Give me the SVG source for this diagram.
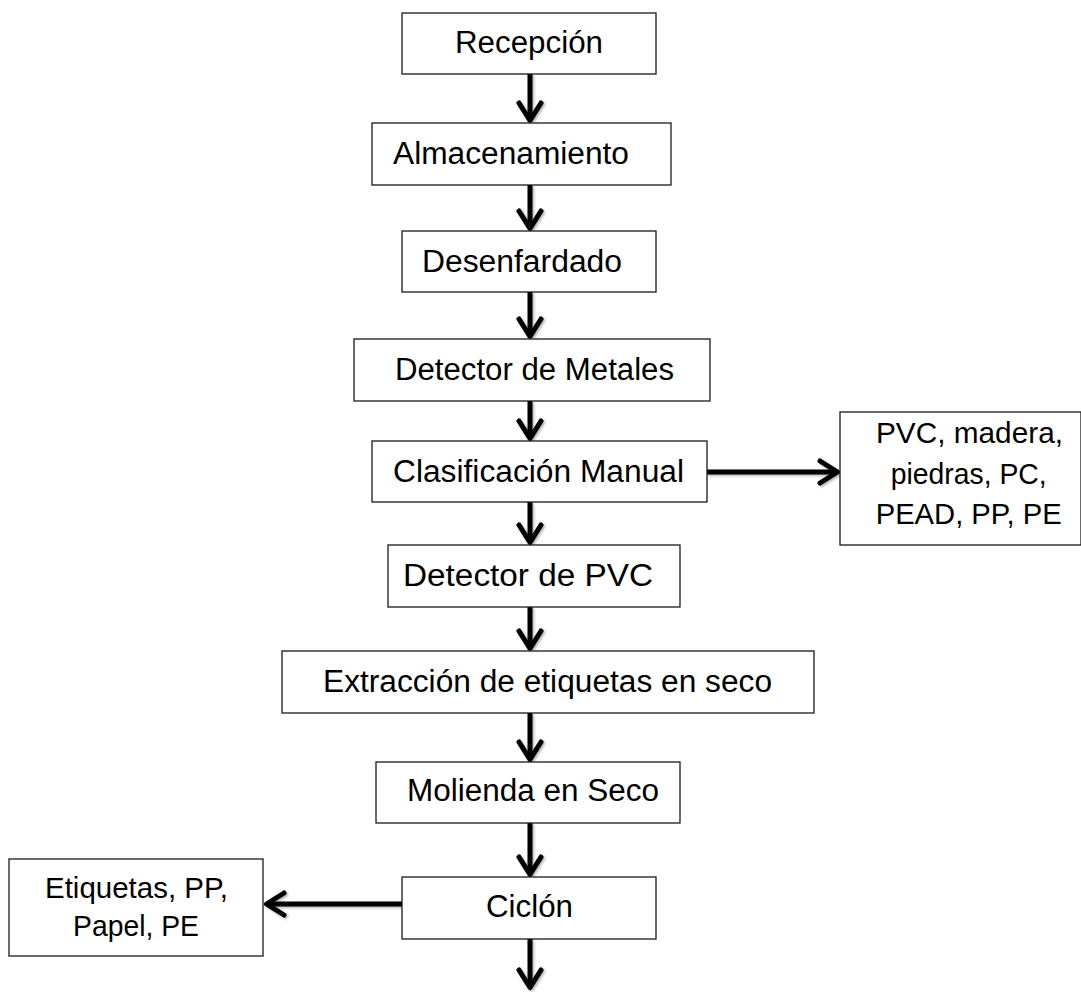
<svg xmlns="http://www.w3.org/2000/svg" width="1081" height="992" viewBox="0 0 1081 992">
  <style>
    .box { fill: #ffffff; stroke: #1a1a1a; stroke-width: 1.3; }
    .lbl { font-family: "Liberation Sans", Arial, sans-serif; font-size: 31px; fill: #000; text-anchor: middle; }
    .side { font-family: "Liberation Sans", Arial, sans-serif; font-size: 29.5px; fill: #000; text-anchor: middle; }
    .conn { stroke: #000; stroke-width: 5; fill: none; marker-end: url(#chev); }
  </style>
  <defs>
    <marker id="chev" markerUnits="userSpaceOnUse" markerWidth="40" markerHeight="40" refX="20" refY="20" orient="auto">
      <path d="M 5 9 L 22.5 20 L 5 31" fill="none" stroke="#000" stroke-width="5" stroke-linecap="round" stroke-linejoin="round"/>
    </marker>
    <filter id="shadow" filterUnits="userSpaceOnUse" x="0" y="0" width="1081" height="992">
      <feDropShadow dx="1.5" dy="1.5" stdDeviation="1.2" flood-color="#000" flood-opacity="0.3"/>
    </filter>
  </defs>
  <rect width="1081" height="992" fill="#ffffff"/>

  <g id="connectors" filter="url(#shadow)">
    <line class="conn" x1="530" y1="74" x2="530" y2="118"/>
    <line class="conn" x1="530" y1="185" x2="530" y2="226"/>
    <line class="conn" x1="530" y1="292" x2="530" y2="334"/>
    <line class="conn" x1="530" y1="401" x2="530" y2="436"/>
    <line class="conn" x1="530" y1="502" x2="530" y2="540"/>
    <line class="conn" x1="530" y1="607" x2="530" y2="646"/>
    <line class="conn" x1="530" y1="713" x2="530" y2="757"/>
    <line class="conn" x1="530" y1="823" x2="530" y2="872"/>
    <line class="conn" x1="530" y1="939" x2="530" y2="985"/>
    <line class="conn" x1="707" y1="472" x2="835" y2="472"/>
    <line class="conn" x1="402" y1="904" x2="269" y2="904"/>
  </g>

  <g id="recepcion">
    <rect class="box" x="402" y="13" width="254" height="61"/>
    <text class="lbl" x="529" y="53" textLength="148" lengthAdjust="spacingAndGlyphs">Recepción</text>
  </g>
  <g id="almacenamiento">
    <rect class="box" x="372" y="123" width="299" height="62"/>
    <text class="lbl" x="511" y="164" textLength="236" lengthAdjust="spacingAndGlyphs">Almacenamiento</text>
  </g>
  <g id="desenfardado">
    <rect class="box" x="402" y="231" width="254" height="61"/>
    <text class="lbl" x="522" y="272" textLength="200" lengthAdjust="spacingAndGlyphs">Desenfardado</text>
  </g>
  <g id="detector-metales">
    <rect class="box" x="354" y="339" width="356" height="62"/>
    <text class="lbl" x="534.5" y="380" textLength="279" lengthAdjust="spacingAndGlyphs">Detector de Metales</text>
  </g>
  <g id="clasificacion-manual">
    <rect class="box" x="372" y="441" width="335" height="61"/>
    <text class="lbl" x="538.5" y="482" textLength="291" lengthAdjust="spacingAndGlyphs">Clasificación Manual</text>
  </g>
  <g id="rechazo-clasificacion">
    <rect class="box" x="840" y="412" width="241" height="133"/>
    <text class="side" x="969.5" y="443" textLength="187" lengthAdjust="spacingAndGlyphs">PVC, madera,</text>
    <text class="side" x="968.7" y="484" textLength="156" lengthAdjust="spacingAndGlyphs">piedras, PC,</text>
    <text class="side" x="968.7" y="524" textLength="186" lengthAdjust="spacingAndGlyphs">PEAD, PP, PE</text>
  </g>
  <g id="detector-pvc">
    <rect class="box" x="388" y="545" width="292" height="62"/>
    <text class="lbl" x="528" y="586" textLength="250" lengthAdjust="spacingAndGlyphs">Detector de PVC</text>
  </g>
  <g id="extraccion-etiquetas">
    <rect class="box" x="282" y="651" width="532" height="62"/>
    <text class="lbl" x="547.5" y="692" textLength="449" lengthAdjust="spacingAndGlyphs">Extracción de etiquetas en seco</text>
  </g>
  <g id="molienda-seco">
    <rect class="box" x="376" y="762" width="304" height="61"/>
    <text class="lbl" x="533" y="801" textLength="252" lengthAdjust="spacingAndGlyphs">Molienda en Seco</text>
  </g>
  <g id="ciclon">
    <rect class="box" x="402" y="877" width="254" height="62"/>
    <text class="lbl" x="529.5" y="917" textLength="87" lengthAdjust="spacingAndGlyphs">Ciclón</text>
  </g>
  <g id="rechazo-ciclon">
    <rect class="box" x="9" y="859" width="254" height="97"/>
    <text class="side" x="136.5" y="898" textLength="183" lengthAdjust="spacingAndGlyphs">Etiquetas, PP,</text>
    <text class="side" x="136" y="936" textLength="126" lengthAdjust="spacingAndGlyphs">Papel, PE</text>
  </g>
</svg>
